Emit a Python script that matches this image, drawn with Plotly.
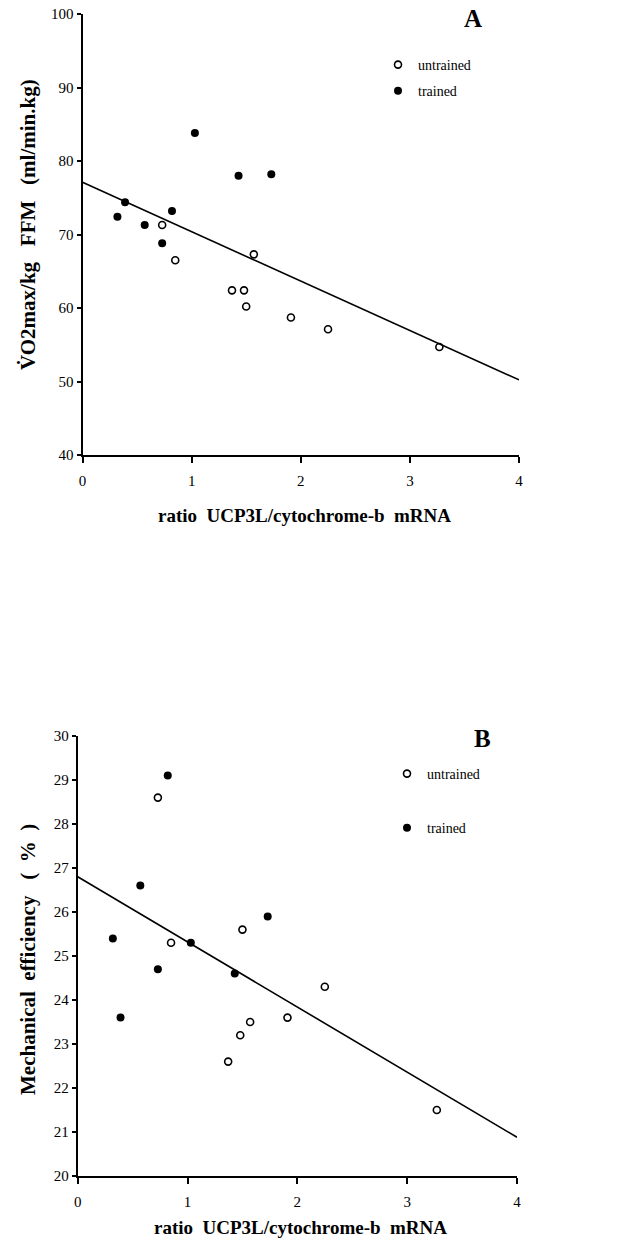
import plotly.graph_objects as go

# ratio UCP3L / cytochrome-b mRNA (same subjects in both panels)
untrained_x = [0.73, 0.85, 1.37, 1.48, 1.50, 1.57, 1.91, 2.25, 3.27]
trained_x = [0.32, 0.39, 0.57, 0.73, 0.82, 1.03, 1.43, 1.73]

# panel A: VO2max / kg FFM (ml/min.kg)
vo2_untrained = [71.3, 66.5, 62.4, 62.4, 60.2, 67.3, 58.7, 57.1, 54.7]
vo2_trained = [72.4, 74.4, 71.3, 68.8, 73.2, 83.8, 78.0, 78.2]

# panel B: mechanical efficiency (%)
eff_untrained = [28.6, 25.3, 22.6, 23.2, 25.6, 23.5, 23.6, 24.3, 21.5]
eff_trained = [25.4, 23.6, 26.6, 24.7, 29.1, 25.3, 24.6, 25.9]

# regression lines (intercept, slope)
fit_a = (77.1, -6.72)
fit_b = (26.8, -1.48)
fit_x = [0, 4]

FONT = "Liberation Serif"
W, H = 625, 1245

fig = go.Figure()

def add_panel(xa, ya, y_un, y_tr, fit, legend):
    fig.add_trace(go.Scatter(
        x=fit_x, y=[fit[0] + fit[1] * v for v in fit_x],
        mode="lines", line=dict(color="black", width=1.6),
        showlegend=False, xaxis=xa, yaxis=ya, hoverinfo="skip"))
    fig.add_trace(go.Scatter(
        x=untrained_x, y=y_un, mode="markers", name="untrained",
        marker=dict(symbol="circle-open", size=7, color="black",
                    line=dict(width=1.6, color="black")),
        xaxis=xa, yaxis=ya, legend=legend, legendgroup=legend + "u"))
    fig.add_trace(go.Scatter(
        x=trained_x, y=y_tr, mode="markers", name="trained",
        marker=dict(symbol="circle", size=8, color="black"),
        xaxis=xa, yaxis=ya, legend=legend, legendgroup=legend + "t"))

add_panel("x", "y", vo2_untrained, vo2_trained, fit_a, "legend")
add_panel("x2", "y2", eff_untrained, eff_trained, fit_b, "legend2")

axis_common = dict(
    showline=True, linecolor="black", linewidth=2, showgrid=False,
    zeroline=False, ticks="outside", tickcolor="black", tickwidth=1.5,
    automargin=False,
    tickfont=dict(family=FONT, size=15, color="black"),
)

fig.update_layout(
    width=W, height=H,
    margin=dict(l=0, r=0, t=0, b=0),
    paper_bgcolor="white", plot_bgcolor="white",
    font=dict(family=FONT, color="black"),
    xaxis=dict(domain=[82.5 / W, 519 / W], range=[0, 4], dtick=1,
               anchor="y", ticklen=6, ticklabelstandoff=5, **axis_common),
    yaxis=dict(domain=[1 - 455 / H, 1 - 14 / H], range=[40, 100], dtick=10,
               anchor="x", ticklen=4, **axis_common),
    xaxis2=dict(domain=[77.7 / W, 517 / W], range=[0, 4], dtick=1,
                anchor="y2", ticklen=6, ticklabelstandoff=5, **axis_common),
    yaxis2=dict(domain=[1 - 1176 / H, 1 - 736 / H], range=[20, 30], dtick=1,
                anchor="x2", ticklen=4, **axis_common),
    legend=dict(x=378 / W, y=1 - 49 / H, xanchor="left", yanchor="top",
                font=dict(family=FONT, size=14), traceorder="grouped",
                tracegroupgap=5, bgcolor="rgba(0,0,0,0)"),
    legend2=dict(x=387 / W, y=1 - 758 / H, xanchor="left", yanchor="top",
                 font=dict(family=FONT, size=14), traceorder="grouped",
                 tracegroupgap=33, bgcolor="rgba(0,0,0,0)"),
)

sp = "\u00a0"
annotations = [
    dict(text="<b>A</b>", x=473 / W, y=1 - 18 / H, font=dict(size=25)),
    dict(text="<b>B</b>", x=482 / W, y=1 - 738 / H, font=dict(size=25)),
    dict(text=f"<b>ratio{sp*2}UCP3L/cytochrome-b{sp*2}mRNA</b>",
         x=304 / W, y=1 - 515 / H, font=dict(size=19)),
    dict(text=f"<b>ratio{sp*2}UCP3L/cytochrome-b{sp*2}mRNA</b>",
         x=300 / W, y=1 - 1227 / H, font=dict(size=19)),
    dict(text=f"<b>V\u0307O2max/kg{sp*3}FFM{sp*3}(ml/min.kg)</b>",
         x=28 / W, y=1 - 225 / H, textangle=-90, font=dict(size=21)),
    dict(text=f"<b>Mechanical{sp*2}efficiency{sp*3}({sp*2}%{sp*2})</b>",
         x=28 / W, y=1 - 960 / H, textangle=-90, font=dict(size=21)),
]
for a in annotations:
    a.update(xref="paper", yref="paper", showarrow=False,
             xanchor="center", yanchor="middle")
    a["font"].update(family=FONT, color="black")
fig.update_layout(annotations=annotations)

# page has a default 8px body margin; drop it so the figure sits at 0,0
fig.write_html("out.html", config={"displayModeBar": False},
               post_script="document.body.style.margin='0';")
